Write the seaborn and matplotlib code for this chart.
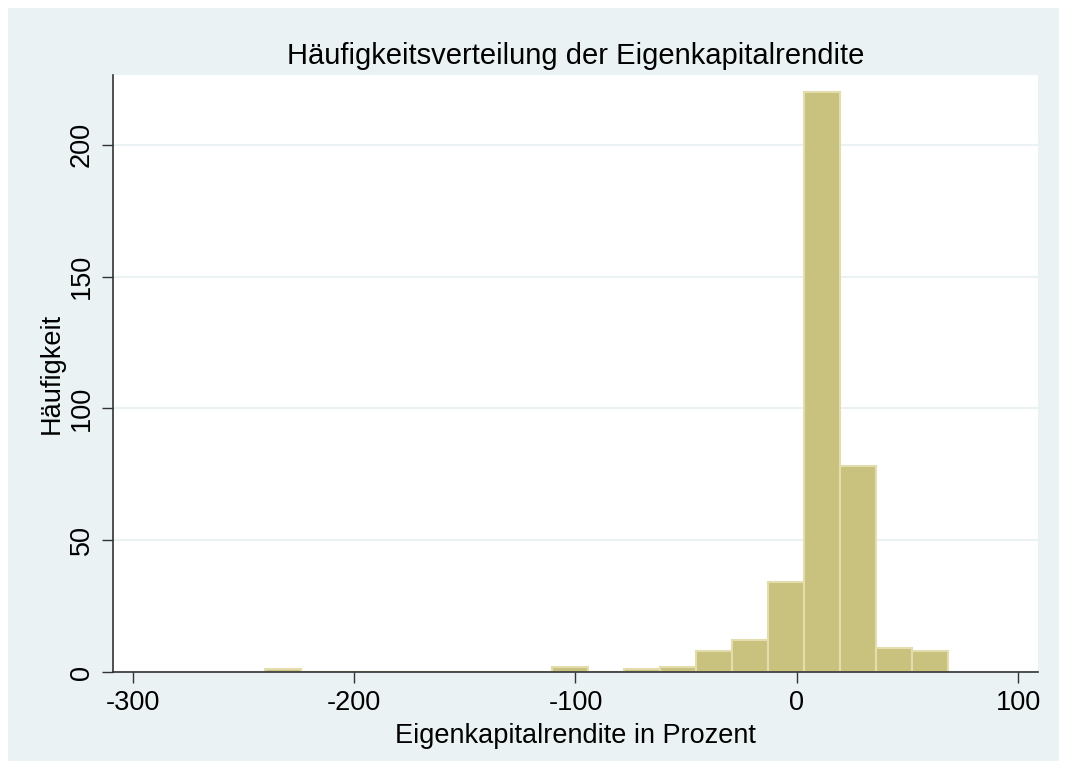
import numpy as np
import pandas as pd
import matplotlib
matplotlib.use("Agg")
import matplotlib.pyplot as plt
from matplotlib.patches import Rectangle
import seaborn as sns

# Data
bin_start = -240.5
bin_width = 16.25
counts = [1, 0, 0, 0, 0, 0, 0, 0, 2, 0, 1, 2, 8, 12, 34, 220, 78, 9, 8]
x_ticks = [-300, -200, -100, 0, 100]
y_ticks = [0, 50, 100, 150, 200]
title = "Häufigkeitsverteilung der Eigenkapitalrendite"
xlabel = "Eigenkapitalrendite in Prozent"
ylabel = "Häufigkeit"

n_bins = len(counts)
bin_end = bin_start + bin_width * n_bins
centers = bin_start + bin_width * (np.arange(n_bins) + 0.5)
df = pd.DataFrame({"x": centers, "w": counts})

sns.set_style("white")
plt.rcParams["font.family"] = ["Liberation Sans", "DejaVu Sans"]
plt.rcParams["axes.unicode_minus"] = False

W, H = 1067, 769
fig = plt.figure(figsize=(W / 100, H / 100), dpi=100, facecolor="white")
fig.patches.append(Rectangle((8 / W, 8 / H), (W - 16) / W, (H - 16) / H,
                             transform=fig.transFigure, facecolor="#EAF2F3",
                             edgecolor="none", zorder=-10))
ax = fig.add_axes([113 / W, (H - 672) / H, (1038 - 113) / W, (672 - 75) / H])
ax.set_facecolor("white")

sns.histplot(data=df, x="x", weights="w", binwidth=bin_width,
             binrange=(bin_start, bin_end), ax=ax,
             color="#C9C27E", edgecolor="#E3DDAE", linewidth=1.5, alpha=1)

ax.set_xlim(-309, 109)
ax.set_ylim(0, 226.5)
ax.set_xticks(x_ticks)
ax.set_yticks(y_ticks)
ax.set_yticklabels([str(v) for v in y_ticks], rotation=90, va="center")
ax.tick_params(axis="both", direction="out", length=8, width=1, color="#333333",
               labelsize=19.5, labelcolor="black", left=True, bottom=True, pad=5)
ax.grid(axis="y", color="#EAF2F3", linewidth=1.5)
ax.set_axisbelow(True)
for s in ["top", "right"]:
    ax.spines[s].set_visible(False)
for s in ["left", "bottom"]:
    ax.spines[s].set_color("#333333")
    ax.spines[s].set_linewidth(1.2)

ax.set_title(title, fontsize=21, pad=8, color="black")
ax.set_xlabel(xlabel, fontsize=19.5, labelpad=5, color="black")
ax.set_ylabel(ylabel, fontsize=19.5, labelpad=3, color="black")

fig.savefig("out.png", dpi=100, facecolor="white")
